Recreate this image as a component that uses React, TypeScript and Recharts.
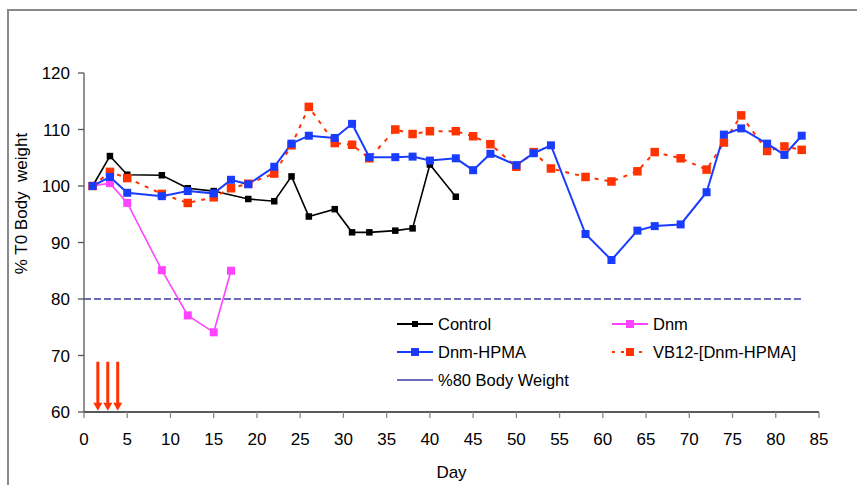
import React from 'react';
import { LineChart, Line, XAxis, YAxis, ReferenceLine, Legend, Label } from 'recharts';

// ---- data ----
const controlDays = [1, 3, 5, 9, 12, 15, 19, 22, 24, 26, 29, 31, 33, 36, 38, 40, 43];
const controlVals = [100, 105.3, 102, 101.9, 99.6, 99.1, 97.7, 97.3, 101.7, 94.6, 95.9, 91.8, 91.8, 92.1, 92.5, 103.8, 98.1];

const dnmDays = [1, 3, 5, 9, 12, 15, 17];
const dnmVals = [100, 100.5, 97, 85.1, 77.1, 74.1, 85];

const hpmaDays = [1, 3, 5, 9, 12, 15, 17, 19, 22, 24, 26, 29, 31, 33, 36, 38, 40, 43, 45, 47, 50, 52, 54, 58, 61, 64, 66, 69, 72, 74, 76, 79, 81, 83];
const hpmaVals = [100, 101.6, 98.8, 98.2, 99.1, 98.7, 101.1, 100.3, 103.4, 107.5, 108.9, 108.5, 111, 105.1, 105.1, 105.2, 104.5, 104.9, 102.8, 105.7, 103.7, 105.8, 107.2, 91.5, 86.9, 92.1, 92.9, 93.2, 98.9, 109.1, 110.2, 107.5, 105.5, 108.9];

const vbDays = [1, 3, 5, 9, 12, 15, 17, 19, 22, 24, 26, 29, 31, 33, 36, 38, 40, 43, 45, 47, 50, 52, 54, 58, 61, 64, 66, 69, 72, 74, 76, 79, 81, 83];
const vbVals = [100, 102.5, 101.4, 98.6, 97, 98, 99.6, 100.4, 102.2, 107.2, 114, 107.6, 107.3, 104.9, 110, 109.2, 109.7, 109.7, 108.8, 107.4, 103.4, 106, 103.1, 101.6, 100.8, 102.6, 106, 104.9, 102.9, 107.7, 112.5, 106.2, 107, 106.4];

const limitDays = [0, 83];
const limitVals = [80, 80];

const arrowDays = [1.6, 2.75, 3.9];
const arrowTop = 68.9;
const arrowBottom = 60.2;

const xTicks = [0, 5, 10, 15, 20, 25, 30, 35, 40, 45, 50, 55, 60, 65, 70, 75, 80, 85];
const yTicks = [60, 70, 80, 90, 100, 110, 120];

const seriesNames = ['Control', 'Dnm', 'Dnm-HPMA', 'VB12-[Dnm-HPMA]', '%80 Body Weight'];

const zip = (d: number[], v: number[]) => d.map((day, i) => ({ day, v: v[i] }));
const controlData = zip(controlDays, controlVals);
const dnmData = zip(dnmDays, dnmVals);
const hpmaData = zip(hpmaDays, hpmaVals);
const vbData = zip(vbDays, vbVals);

// ---- styles ----
const FONT = '"Liberation Sans", Arial, sans-serif';
const C_BLACK = '#000000';
const C_MAG = '#FF44FF';
const C_BLUE = '#1A3CFF';
const C_RED = '#FF3300';
const C_NAVY = '#3B3BA0';

const square = (color: string, size: number, name: string) => (props: any) => {
  const { cx, cy, index } = props;
  if (cx == null || cy == null) return <g key={`${name}-${index}`} />;
  return (
    <rect key={`${name}-${index}`} x={cx - size / 2} y={cy - size / 2} width={size} height={size} fill={color} />
  );
};

const ArrowShape = (p: any) => {
  const top = Math.min(p.y1, p.y2);
  const bot = Math.max(p.y1, p.y2);
  const x = p.x1;
  return (
    <g>
      <line x1={x} y1={top} x2={x} y2={bot - 7} stroke={C_RED} strokeWidth={3} />
      <polygon points={`${x - 4.5},${bot - 8} ${x + 4.5},${bot - 8} ${x},${bot}`} fill={C_RED} />
    </g>
  );
};

const LegendIcon = ({ color, dash, sq, thin }: { color: string; dash?: string; sq: number; thin?: boolean }) => (
  <svg width={36} height={12} style={{ display: 'block' }}>
    <line x1={0} y1={6} x2={36} y2={6} stroke={color} strokeWidth={thin ? 1.5 : 2} strokeDasharray={dash} />
    {sq > 0 && <rect x={18 - sq / 2} y={6 - sq / 2} width={sq} height={sq} fill={color} />}
  </svg>
);

const legendItems = [
  { name: seriesNames[0], color: C_BLACK, sq: 6, left: 0, top: 0 },
  { name: seriesNames[1], color: C_MAG, sq: 8, left: 215, top: 0 },
  { name: seriesNames[2], color: C_BLUE, sq: 8, left: 0, top: 28 },
  { name: seriesNames[3], color: C_RED, sq: 8, left: 215, top: 28, dash: '3 6' },
  { name: seriesNames[4], color: C_NAVY, sq: 0, left: 0, top: 56, thin: true },
];

const renderLegend = () => (
  <div style={{ position: 'relative', width: 440, height: 80, fontFamily: FONT, fontSize: 16.5, color: '#000' }}>
    {legendItems.map((it) => (
      <div key={it.name} style={{ position: 'absolute', left: it.left, top: it.top, display: 'flex', alignItems: 'center', whiteSpace: 'nowrap' }}>
        <LegendIcon color={it.color} dash={it.dash} sq={it.sq} thin={it.thin} />
        <span style={{ marginLeft: 5, lineHeight: '20px' }}>{it.name}</span>
      </div>
    ))}
  </div>
);

const YTitle = (props: any) => {
  const vb = props.viewBox || {};
  const cx = vb.x + 14;
  const cy = vb.y + vb.height * 0.385;
  return (
    <text x={cx} y={cy} transform={`rotate(-90, ${cx}, ${cy})`} textAnchor="middle" dominantBaseline="central"
      fontFamily={FONT} fontSize={17} fill="#000" style={{ whiteSpace: 'pre' }}>
      % T0 Body  weight
    </text>
  );
};

export default function App() {
  return (
    <div style={{ position: 'absolute', left: 0, top: 0, width: 857, height: 485, background: '#fff', overflow: 'hidden' }}>
      <div style={{ position: 'absolute', left: 7, top: 9, width: 900, height: 600, borderLeft: '2px solid #8a8a8a', borderTop: '2px solid #8a8a8a' }} />
      <div style={{ position: 'absolute', left: 0, top: 0 }}>
        <LineChart width={857} height={485} margin={{ top: 73, right: 38, left: 8, bottom: 1 }}>
          <XAxis dataKey="day" type="number" domain={[0, 85]} ticks={xTicks} interval={0} allowDataOverflow
            tick={{ fontSize: 17, fill: '#000', fontFamily: FONT }} tickSize={6} tickMargin={15}
            axisLine={{ stroke: '#222', strokeWidth: 1.3 }} tickLine={{ stroke: '#888', strokeWidth: 1.3 }} height={72}>
            <Label value="Day" position="insideBottom" offset={6} style={{ fontSize: 17, fill: '#000', fontFamily: FONT }} />
          </XAxis>
          <YAxis type="number" domain={[60, 120]} ticks={yTicks} interval={0} allowDataOverflow
            tick={{ fontSize: 17, fill: '#000', fontFamily: FONT }} tickSize={6} tickMargin={8}
            axisLine={{ stroke: '#555', strokeWidth: 1.3 }} tickLine={{ stroke: '#555', strokeWidth: 1.3 }} width={76}>
            <Label content={<YTitle />} />
          </YAxis>
          {arrowDays.map((d, i) => (
            <ReferenceLine key={`arrow-${i}`} segment={[{ x: d, y: arrowTop }, { x: d, y: arrowBottom }]} shape={ArrowShape} ifOverflow="visible" />
          ))}
          <ReferenceLine segment={[{ x: limitDays[0], y: limitVals[0] }, { x: limitDays[1], y: limitVals[1] }]}
            stroke={C_NAVY} strokeWidth={1.6} strokeDasharray="7 3" ifOverflow="visible" />
          <Line data={controlData} dataKey="v" name={seriesNames[0]} stroke={C_BLACK} strokeWidth={1.6} dot={square(C_BLACK, 6.5, 'c')} isAnimationActive={false} />
          <Line data={dnmData} dataKey="v" name={seriesNames[1]} stroke={C_MAG} strokeWidth={1.6} dot={square(C_MAG, 8, 'd')} isAnimationActive={false} />
          <Line data={vbData} dataKey="v" name={seriesNames[3]} stroke={C_RED} strokeWidth={2} strokeDasharray="4 6" dot={square(C_RED, 8.5, 'r')} isAnimationActive={false} />
          <Line data={hpmaData} dataKey="v" name={seriesNames[2]} stroke={C_BLUE} strokeWidth={2} dot={square(C_BLUE, 8, 'b')} isAnimationActive={false} />
          <Legend layout="horizontal" verticalAlign="middle" align="center" content={renderLegend}
            wrapperStyle={{ position: 'absolute', left: 397, top: 314, width: 440, height: 80 }} />
        </LineChart>
      </div>
    </div>
  );
}
